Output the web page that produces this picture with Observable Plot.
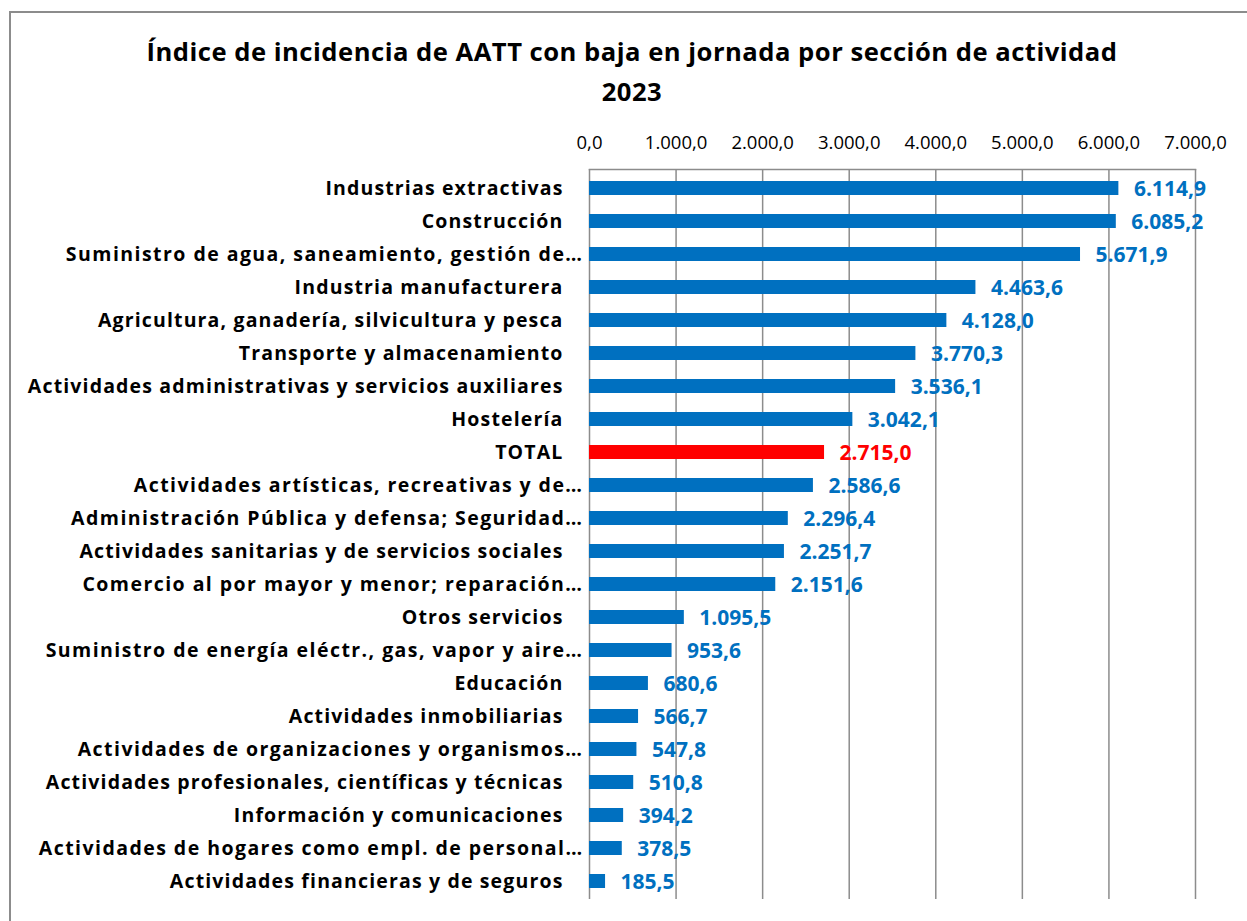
<!DOCTYPE html>
<html>
<head>
<meta charset="utf-8">
<script src="https://cdn.jsdelivr.net/npm/d3@7"></script>
<script src="https://cdn.jsdelivr.net/npm/@observablehq/plot@0.6"></script>
<style>
  html, body { margin: 0; padding: 0; background: #fff; overflow: hidden; }
  body { width: 1247px; height: 921px; position: relative; font-family: "Open Sans", sans-serif; }
  #frame { position: absolute; left: 9px; top: 11px; width: 1400px; height: 1100px;
           border-left: 2px solid #8c8c8c; border-top: 2px solid #8c8c8c; box-sizing: border-box; }
  #title { position: absolute; left: 0; top: 0; width: 1264px; height: 115px; box-sizing: border-box;
           padding-top: 32px; text-align: center; font-weight: bold; font-size: 25.6px; line-height: 40px;
           letter-spacing: 0.5px; color: #000; }
  #chart { position: absolute; left: 0; top: 115px; }
  #chart g[aria-label="y-axis tick label"] text { letter-spacing: 1.15px; }
</style>
</head>
<body>
<div id="frame"></div>
<div id="title">Índice de incidencia de AATT con baja en jornada por sección de actividad<br>2023</div>
<div id="chart"></div>
<script>
const categories = [
  "Industrias extractivas",
  "Construcción",
  "Suministro de agua, saneamiento, gestión de…",
  "Industria manufacturera",
  "Agricultura, ganadería, silvicultura y pesca",
  "Transporte y almacenamiento",
  "Actividades administrativas y servicios auxiliares",
  "Hostelería",
  "TOTAL",
  "Actividades artísticas, recreativas y de…",
  "Administración Pública y defensa; Seguridad…",
  "Actividades sanitarias y de servicios sociales",
  "Comercio al por mayor y menor; reparación…",
  "Otros servicios",
  "Suministro de energía eléctr., gas, vapor y aire…",
  "Educación",
  "Actividades inmobiliarias",
  "Actividades de organizaciones y organismos…",
  "Actividades profesionales, científicas y técnicas",
  "Información y comunicaciones",
  "Actividades de hogares como empl. de personal…",
  "Actividades financieras y de seguros"
];
const values = [6114.9, 6085.2, 5671.9, 4463.6, 4128.0, 3770.3, 3536.1, 3042.1, 2715.0, 2586.6,
  2296.4, 2251.7, 2151.6, 1095.5, 953.6, 680.6, 566.7, 547.8, 510.8, 394.2, 378.5, 185.5];
const xTicks = [0, 1000, 2000, 3000, 4000, 5000, 6000, 7000];
const highlight = "TOTAL";

const data = categories.map((c, i) => ({category: c, value: values[i], total: c === highlight}));
const locale = d3.formatLocale({decimal: ",", thousands: ".", grouping: [3]});
const fmt = locale.format(",.1f");
const blue = "#0070C0", red = "#FF0000";

const truncated = categories.filter(c => c.endsWith("…"));
const full = categories.filter(c => !c.endsWith("…"));

const chart = Plot.plot({
  width: 1247,
  height: 805,
  marginTop: 54,
  marginBottom: 21,
  marginLeft: 589,
  marginRight: 52,
  style: {fontFamily: "'Open Sans', sans-serif", background: "transparent"},
  x: {domain: [0, 7000], axis: null},
  y: {domain: categories, paddingInner: 0.59, paddingOuter: 0.295, axis: null},
  marks: [
    Plot.gridX(xTicks, {stroke: "#8c8c8c", strokeOpacity: 1, strokeWidth: 1.5}),
    Plot.frame({anchor: "top", stroke: "#8c8c8c", strokeWidth: 1.5}),
    Plot.axisX(xTicks, {anchor: "top", tickSize: 0, tickPadding: 21, tickFormat: fmt,
      fontSize: 18.5, fill: "#000", label: null}),
    Plot.axisY(full, {anchor: "left", tickSize: 0, tickPadding: 26, fontSize: 19.5,
      fontWeight: "bold", fill: "#000", label: null}),
    Plot.axisY(truncated, {anchor: "left", tickSize: 0, tickPadding: 6, fontSize: 19.5,
      fontWeight: "bold", fill: "#000", label: null}),
    Plot.barX(data, {x: "value", y: "category", fill: d => d.total ? red : blue}),
    Plot.text(data, {x: "value", y: "category", text: d => fmt(d.value), textAnchor: "start",
      dx: 15, dy: 1, fontSize: 21, fontWeight: "bold", fill: d => d.total ? red : blue})
  ]
});
const yLabelGroups = chart.querySelectorAll('g[aria-label="y-axis tick label"]');
if (yLabelGroups.length > 1) {
  yLabelGroups[1].querySelectorAll("text").forEach(t => t.style.letterSpacing = "1.45px");
}
document.getElementById("chart").appendChild(chart);
</script>
</body>
</html>
